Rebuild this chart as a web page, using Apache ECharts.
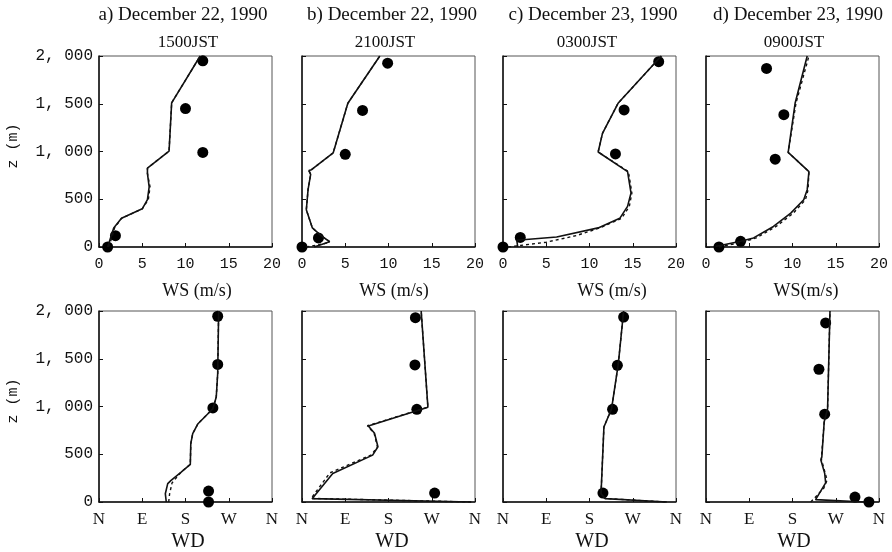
<!DOCTYPE html>
<html>
<head>
<meta charset="utf-8">
<script src="https://cdn.jsdelivr.net/npm/echarts@6/dist/echarts.min.js"></script>
<style>
  html, body { margin: 0; padding: 0; background: #fff; }
  #chart { width: 892px; height: 552px; }
</style>
</head>
<body>
<div id="chart"></div>
<script>
// wind speed profiles [WS (m/s), z (m)]
const wsObsA = [[1, 0], [1.9, 118], [12, 990], [10, 1450], [12, 1950]];
const wsSolidA = [[1, 0], [1.7, 200], [2.6, 300], [5.0, 400], [5.6, 495], [5.8, 630], [5.6, 770], [5.6, 825], [8.1, 1005], [8.4, 1510], [11.7, 2000]];
const wsDashA = [[1.1, 0], [1.5, 100], [1.8, 200], [2.6, 300], [5.0, 400], [5.7, 495], [5.9, 630], [5.6, 770], [5.6, 825], [8.1, 1005], [8.4, 1510], [11.7, 2000]];

const wsObsB = [[0, 0], [1.9, 95], [5, 970], [7, 1430], [9.9, 1925]];
const wsSolidB = [[1.4, 0], [3.2, 55], [2.2, 120], [1.2, 200], [0.5, 390], [0.7, 600], [1.0, 760], [0.8, 800], [1.1, 810], [3.6, 985], [5.3, 1505], [9.0, 2000]];
const wsDashB = [[0.5, 0], [2.6, 35], [3.2, 55], [2.2, 120], [1.2, 200], [0.5, 390], [0.7, 600], [1.0, 760], [0.8, 800], [1.1, 810], [3.6, 985], [5.3, 1505], [9.0, 2000]];

const wsObsC = [[0, 0], [2, 100], [13, 975], [14, 1435], [18, 1940]];
const wsSolidC = [[1.7, 0], [1.6, 70], [6.2, 105], [11, 200], [13.5, 300], [14.4, 425], [14.8, 565], [14.4, 790], [11, 995], [11.5, 1190], [13.3, 1505], [18.3, 2000]];
const wsDashC = [[0.6, 0], [5, 50], [8.5, 120], [11.2, 200], [13.7, 300], [14.6, 425], [14.9, 565], [14.5, 790], [11, 995], [11.5, 1190], [13.3, 1505], [18.3, 2000]];

const wsObsD = [[1.5, 0], [4, 60], [8, 920], [9, 1385], [7, 1870]];
const wsSolidD = [[1.1, 5], [4, 60], [5.5, 95], [7.8, 215], [9.8, 355], [11.3, 495], [11.7, 600], [11.9, 790], [9.5, 990], [10.3, 1505], [11.7, 2000]];
const wsDashD = [[1.5, 0], [4.2, 50], [5.8, 95], [8.1, 215], [10.1, 355], [11.5, 495], [11.8, 600], [11.9, 790], [9.5, 990], [10.4, 1505], [11.9, 2000]];

// wind direction profiles [WD (deg), z (m)]
const wdObsA = [[228, 0], [228, 115], [237, 985], [247, 1440], [247, 1945]];
const wdSolidA = [[140, 0], [138, 87], [143, 192], [150, 227], [171, 314], [190, 394], [191, 611], [195, 716], [206, 820], [237, 977], [244, 1100], [247, 1345], [249, 2000]];
const wdDashA = [[145, 0], [147, 87], [152, 200], [171, 314], [190, 394], [191, 611], [195, 716], [206, 820], [237, 977], [244, 1100], [247, 1345], [249, 2000]];

const wdObsB = [[276, 94], [239, 970], [235, 1435], [236, 1930]];
const wdSolidB = [[352, 0], [21, 35], [64, 298], [147, 491], [158, 579], [151, 719], [138, 796], [262, 993], [248, 2000]];
const wdDashB = [[352, 0], [19, 38], [58, 305], [145, 495], [157, 580], [150, 720], [136, 798], [262, 993], [248, 2000]];

const wdObsC = [[208, 94], [228, 970], [238, 1431], [251, 1937]];
const wdSolidC = [[341, 0], [213, 35], [204, 87], [210, 785], [226, 977], [240, 1448], [251, 2000]];
const wdDashC = [[338, 0], [211, 38], [204, 87], [210, 785], [226, 977], [240, 1448], [251, 2000]];

const wdObsD = [[339, 0], [310, 52], [247, 920], [235, 1390], [249, 1875]];
const wdSolidD = [[330, 0], [228, 25], [249, 200], [247, 300], [239, 440], [241, 470], [246, 840], [253, 977], [258, 2000]];
const wdDashD = [[218, 0], [245, 143], [252, 230], [247, 320], [240, 450], [241, 470], [246, 840], [253, 977], [258, 2000]];

const panelTitles = ['a) December 22, 1990', 'b) December 22, 1990', 'c) December 23, 1990', 'd) December 23, 1990'];
const panelTimes = ['1500JST', '2100JST', '0300JST', '0900JST'];
const wsNames = ['WS (m/s)', 'WS (m/s)', 'WS (m/s)', 'WS(m/s)'];
const wdTicks = { 0: 'N', 90: 'E', 180: 'S', 270: 'W', 360: 'N' };

const wsPanels = [
  [wsSolidA, wsDashA, wsObsA],
  [wsSolidB, wsDashB, wsObsB],
  [wsSolidC, wsDashC, wsObsC],
  [wsSolidD, wsDashD, wsObsD],
];
const wdPanels = [
  [wdSolidA, wdDashA, wdObsA],
  [wdSolidB, wdDashB, wdObsB],
  [wdSolidC, wdDashC, wdObsC],
  [wdSolidD, wdDashD, wdObsD],
];

// layout
const colLeft = [99, 302, 503, 706];
const rowTop = [56, 311];
const titleX = [183, 392, 593, 798];
const timeX = [188, 385, 587, 794];
const wsNameX = [197, 394, 612, 806];
const wdNameX = [188, 392, 592, 794];

const serif = 'Liberation Serif';
const mono = 'Liberation Mono';

const grid = [], xAxis = [], yAxis = [], series = [];

function zLabel(v) {
  if (v >= 1000) return Math.floor(v / 1000) + ', ' + String(v % 1000).padStart(3, '0');
  return String(v);
}

function addPanel(row, col, panel) {
  const idx = grid.length;
  grid.push({
    left: colLeft[col], top: rowTop[row], width: 173, height: 191,
    show: true, borderColor: '#555', borderWidth: 1, backgroundColor: 'transparent',
  });
  const isWs = row === 0;
  xAxis.push({
    gridIndex: idx, type: 'value',
    min: 0, max: isWs ? 20 : 360, interval: isWs ? 5 : 90,
    axisLine: { lineStyle: { color: '#111', width: 1.5 } },
    axisTick: { inside: true, length: 4, lineStyle: { color: '#111' } },
    splitLine: { show: false },
    axisLabel: isWs
      ? { color: '#111', fontFamily: mono, fontSize: 15, margin: 10 }
      : { color: '#111', fontFamily: serif, fontSize: 17, margin: 9, formatter: (v) => wdTicks[v] || '' },
  });
  yAxis.push({
    gridIndex: idx, type: 'value', min: 0, max: 2000, interval: 500,
    axisLine: { show: true, lineStyle: { color: '#111', width: 1.5 } },
    axisTick: { show: true, inside: true, length: 4, lineStyle: { color: '#111' } },
    splitLine: { show: false },
    axisLabel: { show: col === 0, color: '#111', fontFamily: mono, fontSize: 16, margin: 6, formatter: zLabel },
  });
  const [solid, dashed, obs] = panel;
  series.push({
    type: 'line', xAxisIndex: idx, yAxisIndex: idx, data: dashed,
    showSymbol: false, lineStyle: { color: '#111', width: 1.4, type: [3, 3] },
  });
  series.push({
    type: 'line', xAxisIndex: idx, yAxisIndex: idx, data: solid,
    showSymbol: false, lineStyle: { color: '#111', width: 1.6 },
  });
  series.push({
    type: 'scatter', xAxisIndex: idx, yAxisIndex: idx, data: obs,
    symbolSize: 11, itemStyle: { color: '#000', opacity: 1 }, clip: false,
  });
}

wsPanels.forEach((p, c) => addPanel(0, c, p));
wdPanels.forEach((p, c) => addPanel(1, c, p));

const graphic = [];
function text(x, y, str, size, extra) {
  graphic.push({
    type: 'text', x: x, y: y, rotation: (extra && extra.rotation) || 0,
    style: {
      text: str, fill: '#111', align: 'center', verticalAlign: 'middle',
      font: size + 'px "' + ((extra && extra.family) || serif) + '"',
    },
  });
}
for (let c = 0; c < 4; c++) {
  text(titleX[c], 15, panelTitles[c], 19);
  text(timeX[c], 43, panelTimes[c], 17);
  text(wsNameX[c], 291, wsNames[c], 18);
  text(wdNameX[c], 542, 'WD', 20);
}
text(13, 146, 'z (m)', 15, { rotation: Math.PI / 2, family: mono });
text(13, 401, 'z (m)', 15, { rotation: Math.PI / 2, family: mono });

const chart = echarts.init(document.getElementById('chart'));
chart.setOption({
  animation: false,
  backgroundColor: '#fff',
  grid, xAxis, yAxis, series, graphic,
});

window.addEventListener('resize', () => {
  chart.resize();
});
</script>
</body>
</html>
